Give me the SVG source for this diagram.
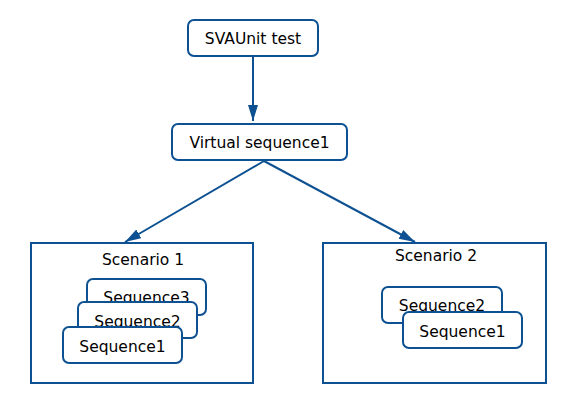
<svg xmlns="http://www.w3.org/2000/svg" width="578" height="406" viewBox="0 0 578 406">
<style>
.n{fill:#fff;stroke:#0d5192;stroke-width:2}
.c{fill:none;stroke:#0d5192;stroke-width:2}
text{font-family:"DejaVu Sans",sans-serif;font-size:15.5px;fill:#000;text-anchor:middle}
</style>
<defs>
<marker id="ah" markerUnits="userSpaceOnUse" markerWidth="17" markerHeight="11" refX="16" refY="5" orient="auto" viewBox="0 0 17 11">
<path d="M0,0 L16,5 L0,10 z" fill="#0d5192"/>
</marker>
</defs>
<rect width="578" height="406" fill="#fff"/>
<g id="connectors">
<line class="c" x1="253" y1="57" x2="253" y2="121" marker-end="url(#ah)"/>
<line class="c" x1="264" y1="161" x2="125" y2="242" marker-end="url(#ah)"/>
<line class="c" x1="264" y1="161" x2="415" y2="242" marker-end="url(#ah)"/>
</g>
<g id="svaunit-test">
<rect class="n" x="188" y="20" width="130" height="36" rx="6"/>
<text x="253" y="44">SVAUnit test</text>
</g>
<g id="virtual-sequence1">
<rect class="n" x="172" y="124" width="175" height="36" rx="6"/>
<text x="259.5" y="148">Virtual sequence1</text>
</g>
<g id="scenario1">
<rect class="n" x="31" y="243" width="222" height="140"/>
<text x="143" y="265">Scenario 1</text>
</g>
<g id="s1-sequence3">
<rect class="n" x="87" y="279" width="119" height="36" rx="6"/>
<text x="146.5" y="303">Sequence3</text>
</g>
<g id="s1-sequence2">
<rect class="n" x="78" y="302" width="119" height="36" rx="6"/>
<text x="137.5" y="327">Sequence2</text>
</g>
<g id="s1-sequence1">
<rect class="n" x="63" y="327" width="119" height="36" rx="6"/>
<text x="122.5" y="352">Sequence1</text>
</g>
<g id="scenario2">
<rect class="n" x="323" y="243" width="223" height="140"/>
<text x="436" y="261">Scenario 2</text>
</g>
<g id="s2-sequence2">
<rect class="n" x="382" y="287" width="120" height="36" rx="6"/>
<text x="442" y="311">Sequence2</text>
</g>
<g id="s2-sequence1">
<rect class="n" x="403" y="312" width="119" height="36" rx="6"/>
<text x="462.5" y="337">Sequence1</text>
</g>
</svg>
